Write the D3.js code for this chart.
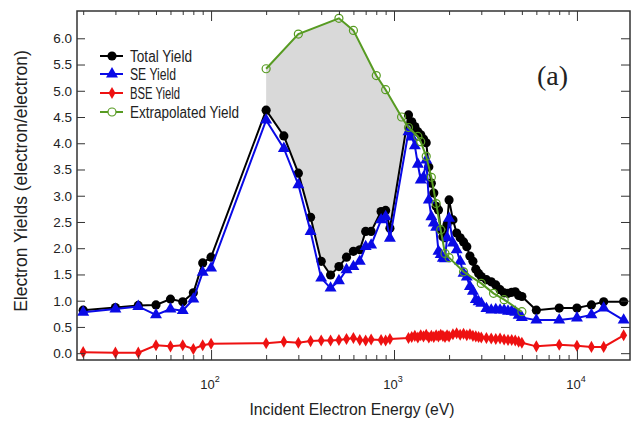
<!DOCTYPE html>
<html>
<head>
<meta charset="utf-8">
<script src="https://cdn.jsdelivr.net/npm/d3@7"></script>
<style>
  body { margin: 0; background: #fff; }
  text { font-family: "Liberation Sans", Arial, sans-serif; fill: #222; }
</style>
</head>
<body>
<div id="viz_yield"></div>
<script>
// measured data (eV)
const energy = [20, 30, 40, 50, 60, 70, 80, 90, 100,
    200, 250, 300, 350, 400, 450, 500, 550, 600, 650, 700, 750, 850, 900, 950,
    1200, 1250, 1300, 1350, 1400, 1450, 1500, 1550, 1600, 1650, 1700, 1750, 1800, 1850, 1900, 1950,
    2000, 2100, 2200, 2300, 2400, 2500, 2600, 2700, 2800, 2900, 3000,
    3200, 3400, 3600, 3800, 4000, 4200, 4400, 4600, 4800, 5000,
    6000, 8000, 10000, 12000, 14000, 18000];

const totalYield = [0.82, 0.87, 0.91, 0.92, 1.03, 0.98, 1.15, 1.72, 1.83,
    4.63, 4.14, 3.43, 2.59, 1.75, 1.49, 1.65, 1.83, 1.94, 1.97, 2.32, 2.32, 2.70, 2.72, 2.38,
    4.54, 4.41, 4.32, 4.22, 4.16, 4.08, 4.01, 3.55, 3.24, 3.05, 2.80, 2.73, 2.35, 2.22, 2.20, 2.45,
    2.92, 2.54, 2.29, 2.20, 2.12, 2.03, 1.85, 1.75, 1.60, 1.52, 1.46,
    1.40, 1.36, 1.30, 1.21, 1.15, 1.14, 1.16, 1.17, 1.10, 1.08,
    0.82, 0.86, 0.86, 0.92, 0.98, 0.98];

const seYield = [0.78, 0.84, 0.89, 0.73, 0.84, 0.81, 1.03, 1.54, 1.62,
    4.44, 3.90, 3.21, 2.32, 1.43, 1.24, 1.38, 1.59, 1.65, 1.75, 2.03, 2.06, 2.54, 2.60, 2.19,
    4.22, 4.12, 3.95, 3.60, 3.30, 3.35, 3.68, 2.92, 2.60, 2.48, 2.40, 1.94, 1.88, 1.81, 1.80, 2.20,
    2.57, 2.10, 1.97, 1.75, 1.52, 1.45, 1.27, 1.18, 1.02, 0.98, 0.95,
    0.85, 0.82, 0.83, 0.82, 0.82, 0.80, 0.80, 0.78, 0.72, 0.68,
    0.63, 0.63, 0.67, 0.73, 0.86, 0.63];

const bseYield = [0.02, 0.01, 0.01, 0.15, 0.13, 0.15, 0.08, 0.15, 0.18,
    0.19, 0.22, 0.20, 0.23, 0.24, 0.24, 0.25, 0.27, 0.29, 0.25, 0.24, 0.26, 0.25, 0.24, 0.27,
    0.29, 0.31, 0.33, 0.30, 0.34, 0.32, 0.35, 0.30, 0.33, 0.31, 0.34, 0.32, 0.35, 0.33, 0.31, 0.34,
    0.32, 0.36, 0.38, 0.35, 0.37, 0.34, 0.36, 0.33, 0.32, 0.31, 0.30,
    0.29, 0.28, 0.27, 0.28, 0.26, 0.25, 0.25, 0.24, 0.22, 0.20,
    0.13, 0.16, 0.14, 0.12, 0.12, 0.34];

const extrapEnergy = [200, 300, 500, 600, 800, 900, 1100, 1200, 1350, 1400, 1500, 1600, 1700, 1800, 1900, 2000, 2400, 3000, 3500, 4000, 5000];
const extrapYield = [5.42, 6.08, 6.38, 6.15, 5.29, 5.02, 4.50, 4.30, 4.13, 4.03, 3.75, 3.35, 2.85, 2.35, 1.90, 1.82, 1.55, 1.33, 1.14, 1.02, 0.79];

const yTicks = [0, 0.5, 1, 1.5, 2, 2.5, 3, 3.5, 4, 4.5, 5, 5.5, 6];
const xMajor = [100, 1000, 10000];
const xMinor = [20, 30, 40, 50, 60, 70, 80, 90, 200, 300, 400, 500, 600, 700, 800, 900,
    2000, 3000, 4000, 5000, 6000, 7000, 8000, 9000];
const xLabels = [["10", "2"], ["10", "3"], ["10", "4"]];

const series = [
    {name: "Total Yield", y: totalYield, color: "#000", symbol: d3.symbolCircle, size: 66},
    {name: "SE Yield", y: seYield, color: "#0a0ae6", symbol: d3.symbolTriangle, size: 62},
    {name: "BSE Yield", y: bseYield, color: "#ee1111", symbol: d3.symbolDiamond, size: 42},
];
const green = "#579b22";

const width = 637, height = 423;
const pL = 77, pR = 630, pT = 11, pB = 360;

const x = d3.scaleLog().domain([18.5, 19500]).range([pL, pR]);
const y = d3.scaleLinear().domain([-0.13, 6.52]).range([pB, pT]);

const svg = d3.select("#viz_yield").append("svg")
    .attr("width", width).attr("height", height);

svg.append("clipPath").attr("id", "plotclip")
    .append("rect").attr("x", pL).attr("y", pT).attr("width", pR - pL).attr("height", pB - pT);

const plot = svg.append("g").attr("clip-path", "url(#plotclip)");

// gray area between extrapolated and total yield
var shade = extrapEnergy.map((e, i) => [e, extrapYield[i]]).filter(d => d[0] <= 1100)
    .concat(energy.map((e, i) => [e, totalYield[i]]).filter(d => d[0] >= 200 && d[0] <= 1200).reverse());
const line = d3.line().x(d => x(d[0])).y(d => y(d[1]));
plot.append("path")
    .attr("d", line(shade) + "Z")
    .attr("fill", "#d9d9d9");

series.forEach(s => {
    var pts = energy.map((e, i) => [e, s.y[i]]);
    plot.append("path").attr("d", line(pts))
        .attr("fill", "none").attr("stroke", s.color).attr("stroke-width", 2);
    plot.selectAll(null).data(pts).join("path")
        .attr("transform", d => `translate(${x(d[0])},${y(d[1])})`)
        .attr("d", d3.symbol(s.symbol, s.size))
        .attr("fill", s.color);
});

var gpts = extrapEnergy.map((e, i) => [e, extrapYield[i]]);
plot.append("path").attr("d", line(gpts))
    .attr("fill", "none").attr("stroke", green).attr("stroke-width", 2);
plot.selectAll(null).data(gpts).join("circle")
    .attr("cx", d => x(d[0])).attr("cy", d => y(d[1])).attr("r", 4)
    .attr("fill", "none").attr("stroke", green).attr("stroke-width", 1.2);

// axes with inward ticks
function noDomain(g) { g.select(".domain").remove(); g.selectAll("line").attr("stroke", "#333"); }

svg.append("g").attr("transform", `translate(0,${pB})`)
    .call(d3.axisBottom(x).tickValues(xMajor).tickSize(-10).tickFormat("")).call(noDomain);
svg.append("g").attr("transform", `translate(0,${pB})`)
    .call(d3.axisBottom(x).tickValues(xMinor).tickSize(-5).tickFormat("")).call(noDomain);
svg.append("g").attr("transform", `translate(0,${pT})`)
    .call(d3.axisTop(x).tickValues(xMajor).tickSize(-10).tickFormat("")).call(noDomain);
svg.append("g").attr("transform", `translate(0,${pT})`)
    .call(d3.axisTop(x).tickValues(xMinor).tickSize(-4).tickFormat("")).call(noDomain);

svg.append("g").attr("transform", `translate(${pL},0)`)
    .call(d3.axisLeft(y).tickValues(yTicks).tickSize(-8).tickPadding(5).tickFormat(d3.format(".1f")))
    .call(noDomain)
    .call(g => g.selectAll("text").attr("font-size", 13.5).attr("fill", "#222")
        .attr("font-family", "Liberation Sans, Arial, sans-serif"));
svg.append("g").attr("transform", `translate(${pR},0)`)
    .call(d3.axisRight(y).tickValues(yTicks).tickSize(-9).tickFormat("")).call(noDomain);

svg.append("rect").attr("x", pL).attr("y", pT)
    .attr("width", pR - pL).attr("height", pB - pT)
    .attr("fill", "none").attr("stroke", "#333").attr("stroke-width", 1.5);

// power-of-ten labels
xMajor.forEach((v, i) => {
    var t = svg.append("text").attr("x", x(v) - 1).attr("y", 389)
        .attr("text-anchor", "middle").attr("font-size", 13);
    t.append("tspan").text(xLabels[i][0]);
    t.append("tspan").attr("dy", -7).attr("font-size", 9).text(xLabels[i][1]);
});

svg.append("text").attr("x", 352).attr("y", 415).attr("text-anchor", "middle")
    .attr("font-size", 16.5).attr("textLength", 205).attr("lengthAdjust", "spacingAndGlyphs")
    .text("Incident Electron Energy (eV)");

svg.append("text").attr("transform", "translate(27,181) rotate(-90)")
    .attr("text-anchor", "middle").attr("font-size", 17.5)
    .text("Electron Yields (electron/electron)");

svg.append("text").attr("x", 537).attr("y", 85)
    .style("font-family", "'Liberation Serif', 'Times New Roman', serif")
    .attr("font-size", 28).text("(a)");

// legend
const legendRows = series.map(s => ({name: s.name, color: s.color, symbol: s.symbol, size: s.size}))
    .concat([{name: "Extrapolated Yield", color: green, open: true}]);
const legendY = [56, 74, 93, 112];
const legendW = [62, 46, 50, 109];
const lg = svg.append("g");
legendRows.forEach((r, i) => {
    var cy = legendY[i];
    lg.append("line").attr("x1", 100).attr("x2", 123).attr("y1", cy).attr("y2", cy)
        .attr("stroke", r.color).attr("stroke-width", 2);
    if (r.open) {
        lg.append("circle").attr("cx", 112).attr("cy", cy).attr("r", 4)
            .attr("fill", "#fff").attr("stroke", r.color).attr("stroke-width", 1.2);
    } else {
        lg.append("path").attr("transform", `translate(112,${cy})`)
            .attr("d", d3.symbol(r.symbol, r.size)).attr("fill", r.color);
    }
    lg.append("text").attr("x", 130).attr("y", cy + 5.5).attr("font-size", 16)
        .attr("textLength", legendW[i]).attr("lengthAdjust", "spacingAndGlyphs")
        .text(r.name);
});
</script>
</body>
</html>
